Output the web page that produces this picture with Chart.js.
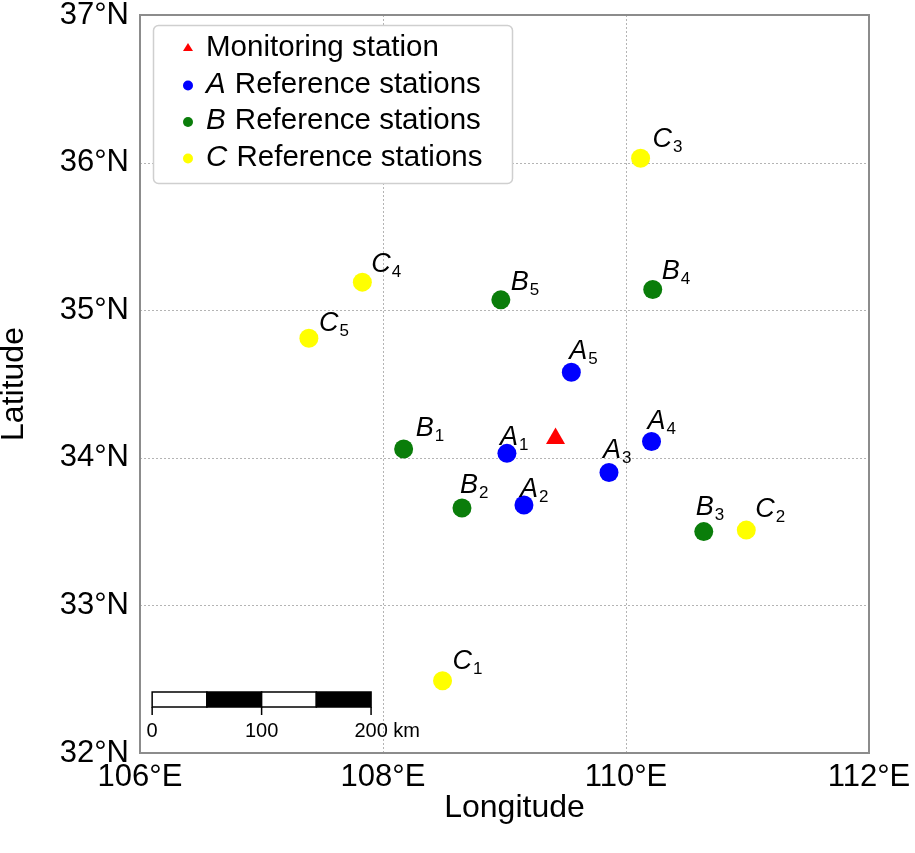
<!DOCTYPE html>
<html lang="en">
<head>
<meta charset="UTF-8">
<title>Monitoring and reference stations</title>
<script src="https://cdn.jsdelivr.net/npm/chart.js"></script>
<style>
  html, body { margin: 0; padding: 0; background: #fff; }
  #wrap { width: 915px; height: 853px; }
</style>
</head>
<body>
<div id="wrap"><canvas id="map" width="915" height="853"></canvas></div>
<script>
// axis ticks (degrees)
const lonTicks = [106, 108, 110, 112];
const latTicks = [32, 33, 34, 35, 36, 37];

// station coordinates
const monitorLon = [109.42];
const monitorLat = [34.13];
const aLon = [109.02, 109.16, 109.86, 110.21, 109.55];
const aLat = [34.03, 33.68, 33.90, 34.11, 34.58];
const bLon = [108.17, 108.65, 110.64, 110.22, 108.97];
const bLat = [34.06, 33.66, 33.50, 35.14, 35.07];
const cLon = [108.49, 110.99, 110.12, 107.83, 107.39];
const cLat = [32.49, 33.51, 36.03, 35.19, 34.81];

// scale bar
const scaleKm = [0, 50, 100, 150, 200];
const scaleLabelKm = [0, 100, 200];
const kmPerDegree = 111;

// label nudges (px) so they sit like the original
const labelShift = {
  A: [[-7, -8], [-4, -8], [-6, -15], [-4, -13], [-2, -13]],
  B: [[12, -13], [-2, -15], [-8, -17], [9, -11], [10, -10]],
  C: [[10, -12], [9, -13], [12, -11], [9, -10], [10, -7]]
};

const FONT = "'Liberation Sans', Arial, Helvetica, sans-serif";
Chart.defaults.font.family = FONT;
Chart.defaults.color = '#000';

function pts(lons, lats) {
  return lons.map((x, i) => ({ x: x, y: lats[i] }));
}

const series = [
  { label: 'Monitoring station', letter: null, data: pts(monitorLon, monitorLat), color: '#ff0000', style: 'triangle', r: 11 },
  { label: 'Reference stations', letter: 'A', data: pts(aLon, aLat), color: '#0000ff', style: 'circle', r: 9.5 },
  { label: 'Reference stations', letter: 'B', data: pts(bLon, bLat), color: '#0a7d0a', style: 'circle', r: 9.5 },
  { label: 'Reference stations', letter: 'C', data: pts(cLon, cLat), color: '#ffff00', style: 'circle', r: 9.5 }
];

// grid, frame, titles, point labels, legend and scale bar
const mapDecor = {
  id: 'mapDecor',
  beforeDatasetsDraw(chart) {
    const { ctx, chartArea: a, scales: { x, y } } = chart;
    ctx.save();
    ctx.strokeStyle = '#b4b4b4';
    ctx.lineWidth = 1;
    ctx.setLineDash([2, 2]);
    lonTicks.slice(1, -1).forEach(v => {
      const px = Math.round(x.getPixelForValue(v)) + 0.5;
      ctx.beginPath(); ctx.moveTo(px, a.top); ctx.lineTo(px, a.bottom); ctx.stroke();
    });
    latTicks.slice(1, -1).forEach(v => {
      const py = Math.round(y.getPixelForValue(v)) + 0.5;
      ctx.beginPath(); ctx.moveTo(a.left, py); ctx.lineTo(a.right, py); ctx.stroke();
    });
    ctx.setLineDash([]);
    ctx.strokeStyle = '#8c8c8c';
    ctx.lineWidth = 2;
    ctx.strokeRect(a.left, a.top, a.right - a.left, a.bottom - a.top);
    ctx.restore();
  },
  afterDraw(chart) {
    const { ctx, chartArea: a, scales: { x, y } } = chart;
    ctx.save();

    // axis titles
    ctx.fillStyle = '#000';
    ctx.font = '32px ' + FONT;
    ctx.textAlign = 'center';
    ctx.textBaseline = 'middle';
    ctx.fillText('Longitude', (a.left + a.right) / 2 + 10, 808);
    ctx.save();
    ctx.translate(14, (a.top + a.bottom) / 2);
    ctx.rotate(-Math.PI / 2);
    ctx.fillText('Latitude', 0, 0);
    ctx.restore();

    // point labels: italic letter + subscript number
    ctx.textAlign = 'left';
    ctx.textBaseline = 'alphabetic';
    series.forEach(s => {
      if (!s.letter) return;
      s.data.forEach((p, i) => {
        const sh = labelShift[s.letter][i];
        const px = x.getPixelForValue(p.x) + sh[0];
        const py = y.getPixelForValue(p.y) + sh[1];
        ctx.font = 'italic 27px ' + FONT;
        ctx.fillText(s.letter, px, py);
        const w = ctx.measureText(s.letter).width;
        ctx.font = '17px ' + FONT;
        ctx.fillText(String(i + 1), px + w + 1, py + 5);
      });
    });

    // legend
    const lx = 153, ly = 25, lw = 359, lh = 158;
    ctx.beginPath();
    ctx.roundRect(lx + 0.5, ly + 0.5, lw, lh, 5);
    ctx.fillStyle = '#fff';
    ctx.fill();
    ctx.strokeStyle = '#cfcfcf';
    ctx.lineWidth = 1.5;
    ctx.stroke();
    ctx.textBaseline = 'middle';
    series.forEach((s, i) => {
      const cy = 48 + i * 36.5;
      const mx = 188;
      ctx.fillStyle = s.color;
      ctx.beginPath();
      if (s.style === 'triangle') {
        ctx.moveTo(mx, cy - 5); ctx.lineTo(mx + 5, cy + 3); ctx.lineTo(mx - 5, cy + 3);
        ctx.closePath();
      } else {
        ctx.arc(mx, cy + 1, 5, 0, Math.PI * 2);
      }
      ctx.fill();
      ctx.fillStyle = '#000';
      let tx = 206;
      if (s.letter) {
        ctx.font = 'italic 29.5px ' + FONT;
        ctx.fillText(s.letter, tx, cy);
        tx += ctx.measureText(s.letter + ' ').width + 1;
      }
      ctx.font = '29.5px ' + FONT;
      ctx.fillText(s.label, tx, cy);
    });

    // scale bar
    const lon0 = 106.1;
    const by = 692, bh = 15;
    const kx = km => x.getPixelForValue(lon0 + km / kmPerDegree);
    ctx.lineWidth = 1.5;
    ctx.strokeStyle = '#000';
    for (let i = 0; i < scaleKm.length - 1; i++) {
      const x0 = kx(scaleKm[i]), x1 = kx(scaleKm[i + 1]);
      ctx.fillStyle = i % 2 ? '#000' : '#fff';
      ctx.fillRect(x0, by, x1 - x0, bh);
      ctx.strokeRect(x0, by, x1 - x0, bh);
    }
    ctx.font = '20px ' + FONT;
    ctx.fillStyle = '#000';
    ctx.textBaseline = 'alphabetic';
    scaleLabelKm.forEach((km, i) => {
      const px = kx(km);
      ctx.beginPath(); ctx.moveTo(px, by + bh); ctx.lineTo(px, by + bh + 8); ctx.stroke();
      const last = i === scaleLabelKm.length - 1;
      ctx.textAlign = 'center';
      ctx.fillText(String(km), px, by + 45);
      if (last) {
        const half = ctx.measureText(String(km)).width / 2;
        ctx.textAlign = 'left';
        ctx.fillText(' km', px + half, by + 45);
      }
    });

    ctx.restore();
  }
};

new Chart(document.getElementById('map'), {
  type: 'scatter',
  data: {
    datasets: series.map(s => ({
      label: s.label,
      data: s.data,
      pointStyle: s.style,
      pointRadius: s.r,
      pointHoverRadius: s.r,
      backgroundColor: s.color,
      borderColor: s.color,
      borderWidth: 0
    }))
  },
  options: {
    responsive: false,
    animation: false,
    layout: { padding: { top: 15, right: 46, left: 0, bottom: 0 } },
    plugins: { legend: { display: false }, tooltip: { enabled: false } },
    scales: {
      x: {
        type: 'linear',
        min: 106,
        max: 112,
        afterBuildTicks: s => { s.ticks = lonTicks.map(v => ({ value: v })); },
        afterFit: s => { s.height = 100; s.paddingLeft = 0; s.paddingRight = 0; },
        grid: { display: false, drawTicks: false },
        border: { display: false },
        ticks: { font: { size: 31 }, padding: 6, maxRotation: 0, callback: v => v + '°E' }
      },
      y: {
        type: 'linear',
        min: 32,
        max: 37,
        afterBuildTicks: s => { s.ticks = latTicks.map(v => ({ value: v })); },
        afterFit: s => { s.width = 140; s.paddingTop = 0; s.paddingBottom = 0; },
        grid: { display: false, drawTicks: false },
        border: { display: false },
        ticks: { font: { size: 31 }, padding: 11, callback: v => v + '°N' }
      }
    }
  },
  plugins: [mapDecor]
});
</script>
</body>
</html>
